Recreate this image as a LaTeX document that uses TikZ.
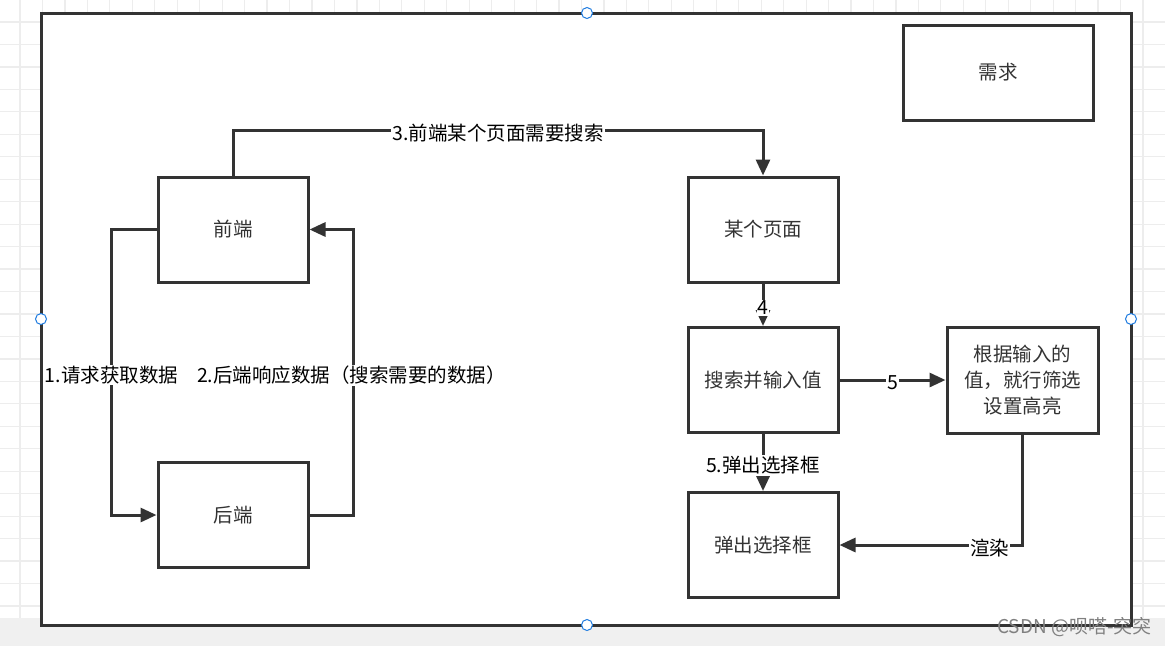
\documentclass[tikz,border=0pt]{standalone}
\usepackage{fontspec}
\setmainfont{Noto Sans CJK SC}
\usetikzlibrary{arrows.meta}
\definecolor{ink}{HTML}{333333}
\definecolor{gridc}{HTML}{EDEDED}
\definecolor{band}{HTML}{F0F0F0}
\definecolor{handle}{HTML}{1E7BE0}
\tikzset{
  box/.style={draw=ink, line width=3pt, fill=white, text=ink, minimum width=150pt, minimum height=105pt, inner sep=2pt, font=\fontsize{19.5}{26}\selectfont, align=center},
  conn/.style={draw=ink, line width=3pt, -{Triangle[length=16pt,width=14pt]}},
  lbl/.style={fill=white, text=black, inner sep=1pt, font=\fontsize{19.5}{22}\selectfont, yshift=-3pt},
  hdl/.style={circle, draw=handle, fill=white, line width=1pt, minimum size=11pt, inner sep=0pt}
}
\begin{document}
\begin{tikzpicture}[x=1pt,y=-1pt]
\useasboundingbox (0,0) rectangle (1165,646);
\fill[white] (0,0) rectangle (1165,646);
% grid
\foreach \i in {0,...,51} {\draw[gridc, line width=1.2pt] (20+22.46*\i,0) -- (20+22.46*\i,618);}
\foreach \j in {0,...,27} {\draw[gridc, line width=1.2pt] (0,22+22.46*\j) -- (1165,22+22.46*\j);}
\fill[band] (0,618) rectangle (1165,646);
% frame
\draw[ink, line width=3pt, fill=white] (41,13) rectangle (1131,625);
% nodes
\node[box, minimum width=190pt, minimum height=95pt] (req) at (998,72.5) {需求};
\node[box] (fe) at (233,229.5) {前端};
\node[box] (be) at (233,515) {后端};
\node[box] (page) at (763,229.5) {某个页面};
\node[box] (search) at (763,380) {搜索并输入值};
\node[box, minimum width=151pt, minimum height=106pt] (filter) at (1022.5,380) {根据输入的\\值，就行筛选\\设置高亮};
\node[box] (popup) at (763,545) {弹出选择框};
% connectors
\draw[conn] (fe.north) -- ++(0,-45) -| node[lbl, pos=0.25] {3.前端某个页面需要搜索} (page.north);
\draw[conn] (fe.west) -- ++(-45,0) |- node[lbl, pos=0.25] {1.请求获取数据} (be.west);
\draw[conn] (be.east) -- ++(44,0) |- node[lbl, pos=0.25, xshift=-2pt] {2.后端响应数据（搜索需要的数据）} (fe.east);
\draw[conn] (page.south) -- node[lbl] {4} (search.north);
\draw[conn] (search.east) -- node[lbl] {5} (filter.west);
\draw[conn] (search.south) -- node[lbl] {5.弹出选择框} (popup.north);
\draw[conn] (filter.south) |- node[lbl, pos=0.59] {渲染} (popup.east);
% selection handles
\node[hdl] (h1) at (587,13) {};
\node[hdl] (h2) at (41,319) {};
\node[hdl] (h3) at (1131,319) {};
\node[hdl] (h4) at (587,625) {};
% watermark
\node[text=black!50, font=\fontsize{19}{22}\selectfont, anchor=east, inner sep=0pt] (wm) at (1152,627) {CSDN @呗嗒-突突};
\end{tikzpicture}
\end{document}
